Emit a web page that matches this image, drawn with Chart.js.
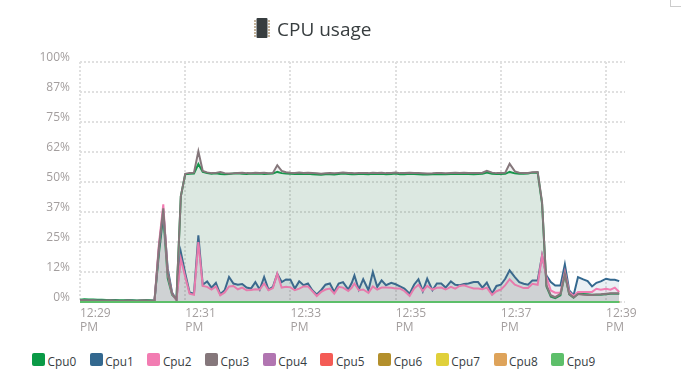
<!DOCTYPE html>
<html lang="en">
<head>
    <meta charset="UTF-8">
    <title>CPU usage</title>
    <script src="https://cdn.jsdelivr.net/npm/chart.js"></script>
    <style>
        html, body { margin: 0; padding: 0; background: #fff; overflow: hidden; }
        body { width: 681px; height: 387px; position: relative; font-family: "Open Sans", sans-serif; }
        #cpuChart { position: absolute; left: 0; top: 0; }
        #title { position: absolute; left: 277px; top: 15px; font-size: 19px; line-height: 28px; color: #373d3f; }
        #chip { position: absolute; left: 253px; top: 18px; }
        #legend { position: absolute; left: 32px; top: 353px; display: flex; }
        .item { width: 57.7px; display: flex; align-items: center; height: 13px; font-size: 11.8px; color: #373d3f; }
        .box { width: 13px; height: 13px; border-radius: 2px; margin-right: 2.5px; flex: none; }
        .name { position: relative; top: 1px; }
        #corner { position: absolute; left: 670px; top: 0; width: 11px; height: 6px; border-left: 1px solid #ccc; border-bottom: 1px solid #ccc; }
    </style>
</head>
<body>
    <canvas id="cpuChart" width="660" height="345"></canvas>

    <svg id="chip" width="18" height="20" viewBox="0 0 18 20">
        <rect x="3.5" y="0" width="11" height="20" rx="1" fill="#373d3f"/>
        <path d="M1 3h2M1 6h2M1 9h2M1 12h2M1 15h2M1 18h2M15 3h2M15 6h2M15 9h2M15 12h2M15 15h2M15 18h2" stroke="#8a6a3a" stroke-width="1"/>
    </svg>
    <div id="title">CPU usage</div>
    <div id="legend"></div>
    <div id="corner"></div>

    <script>
        const cpuNames = ['Cpu0', 'Cpu1', 'Cpu2', 'Cpu3', 'Cpu4', 'Cpu5', 'Cpu6', 'Cpu7', 'Cpu8', 'Cpu9'];
        const cpuColors = ['#0a9a46', '#33688f', '#f27cb2', '#85777b', '#b175b1', '#f45b55', '#b38f2c', '#e0d03a', '#dea35a', '#5dbf6a'];

        const yTickLabels = ['0%', '12%', '25%', '37%', '50%', '62%', '75%', '87%', '100%'];
        const xTickLabels = ['12:29', '12:31', '12:33', '12:35', '12:37', '12:39'];

        // seconds after 12:29 for each sample, ten per row
        const sampleSecs = [
            0, 5, 10, 15, 20, 25, 30, 35, 40, 45,
            50, 55, 60, 65, 70, 75, 80, 85, 90, 95,
            100, 105, 110, 115, 120, 125, 130, 135, 140, 145,
            150, 155, 160, 165, 170, 175, 180, 185, 190, 195,
            200, 205, 210, 215, 220, 225, 230, 235, 240, 245,
            250, 255, 260, 265, 270, 275, 280, 285, 290, 295,
            300, 306, 310, 313, 318, 323, 329, 334, 339, 344,
            349, 355, 360, 365, 370, 376, 381, 386, 391, 396,
            402, 407, 412, 417, 423, 428, 433, 438, 443, 449,
            454, 459, 464, 470, 475, 480, 485, 490, 496, 501,
            506, 511, 516, 522, 527, 532, 537, 542, 548, 553,
            558, 563, 568, 574, 579, 584, 589, 594, 600, 605,
            610, 615
        ];

        const cpu0 = [
            0.9, 1.1, 1.0, 1.0, 0.9, 0.9, 0.8, 0.8, 0.8, 0.7,
            0.7, 0.8, 0.7, 0.6, 0.7, 0.8, 0.7, 0.6, 20, 36,
            10, 3, 1, 44, 53.2, 53.4, 53.5, 57.5, 54.2, 53.7,
            53.4, 53.6, 53.3, 53.2, 53.3, 53.5, 53.6, 53.4, 53.3, 53.5,
            53.4, 53.5, 53.3, 53.4, 53.5, 54.2, 53.7, 53.5, 53.4, 53.3,
            53.4, 53.3, 53.4, 53.2, 53.1, 53, 53.2, 53.2, 53.1, 53.3,
            53.5, 53.3, 53.2, 53.2, 53.3, 53.3, 53.2, 53.4, 53.3, 53.4,
            53.2, 53.3, 53.5, 53.2, 53.2, 53.4, 53.3, 53.2, 53.1, 53.1,
            53.2, 53.3, 53.2, 53.2, 53.3, 53.4, 53.3, 53.4, 53.3, 53.2,
            53.3, 53.4, 53.9, 53.4, 53.3, 53.3, 53.4, 54.2, 53.6, 53.4,
            53.4, 53.5, 53.9, 53.9, 41, 6.5, 2.2, 1.6, 2.8, 11.5,
            3.2, 1.8, 3.4, 3.3, 3.2, 3, 3, 3, 3.2, 3.4,
            3.4, 3.4
        ];

        const cpu1 = [
            0.5, 0.5, 0.5, 0.5, 0.5, 0.5, 0.4, 0.5, 0.5, 0.4,
            0.4, 0.5, 0.5, 0.4, 0.5, 0.5, 0.4, 0.6, 22, 38,
            14, 4, 0.8, 20.8, 12, 4, 3.5, 27.8, 7.2, 8.6,
            6, 8, 3.2, 4.9, 10.4, 7.7, 7.2, 7.5, 6, 5.6,
            8.3, 5.2, 10.4, 5.2, 6.3, 11.8, 8.3, 9.4, 9.3, 5.6,
            8.6, 7, 7.7, 4.9, 3.1, 4.9, 7.2, 7.7, 4.2, 7.7,
            8.3, 5.2, 8, 11.1, 5.2, 9.5, 4.9, 12.5, 6.3, 9,
            7, 8, 7.4, 6.5, 5.6, 3.5, 7.2, 9.5, 4.5, 9.7,
            4.9, 7.7, 7.7, 6, 8.6, 7.2, 7, 7.5, 7.7, 8.3,
            8.3, 6, 8.1, 3.5, 6.7, 7.2, 9.7, 13.2, 10.4, 8.3,
            7.6, 7.2, 9, 9, 19.4, 11, 8.3, 6.9, 6.9, 15.7,
            4.8, 2.8, 10.4, 9.4, 8.7, 6.5, 8, 8.6, 9.7, 9.3,
            9.3, 8.7
        ];

        const cpu2 = [
            0.5, 0.5, 0.5, 0.5, 0.4, 0.4, 0.5, 0.5, 0.4, 0.4,
            0.4, 0.5, 0.4, 0.4, 0.5, 0.5, 0.4, 0.6, 24, 40.7,
            12, 3.5, 0.8, 18, 10.5, 3.5, 3, 25, 6.7, 6.3,
            5.2, 6.5, 2.8, 4, 6.5, 6.7, 5.3, 6, 4.9, 5,
            5.3, 5.2, 7.7, 4.9, 5.8, 11.8, 6, 6.3, 6.1, 4.9,
            5.6, 6.5, 6.5, 4.5, 2.5, 4.2, 5.2, 5.6, 3.5, 6.3,
            6, 4.6, 6, 7.7, 4.9, 5.2, 3.8, 6.5, 5.2, 6,
            6, 5.9, 5.6, 5.6, 4.6, 2.5, 5.6, 7.2, 4.6, 6.7,
            5.2, 5.9, 6, 5.2, 6.3, 5.6, 6.7, 7, 6.3, 5.6,
            5.6, 5.3, 6, 3, 4.5, 5.2, 7, 9.5, 7.2, 6.5,
            5.8, 5.8, 7.6, 7.2, 19.4, 10.4, 4.8, 3.9, 3.9, 12.5,
            4.2, 2.5, 4.2, 4.2, 4.2, 4.2, 5.5, 5.1, 5.5, 5.1,
            6, 4.2
        ];

        const cpu3 = [
            0.7, 0.7, 0.6, 0.7, 0.6, 0.6, 0.5, 0.6, 0.6, 0.5,
            0.5, 0.6, 0.5, 0.5, 0.6, 0.6, 0.5, 0.6, 22.9, 39,
            12.4, 3.5, 1, 44, 53.4, 53.8, 53.9, 62.8, 54.6, 54,
            53.7, 53.8, 54.2, 53.7, 53.5, 53.6, 53.8, 53.9, 53.7, 53.6,
            53.9, 53.8, 53.9, 53.6, 53.8, 57, 54.6, 54.1, 53.9, 53.8,
            54, 53.8, 53.9, 53.8, 53.6, 53.4, 53.6, 53.7, 53.6, 53.8,
            54, 53.8, 53.7, 53.6, 53.7, 53.8, 53.7, 53.9, 53.8, 53.9,
            53.7, 53.8, 54, 53.7, 53.7, 53.9, 53.8, 53.7, 53.6, 53.5,
            53.6, 53.8, 53.7, 53.6, 53.8, 53.9, 53.8, 53.9, 53.8, 53.7,
            53.8, 53.9, 54.7, 53.9, 53.7, 53.8, 53.9, 57.6, 54.4, 53.9,
            53.8, 53.8, 54.1, 54.2, 41.6, 7, 2.8, 2, 3.4, 11.8,
            3.4, 2, 3.3, 3, 2.9, 2.9, 3.1, 3.2, 3.4, 3.6,
            3.6, 3.6
        ];

        // the other six cores sit flat on the axis
        const idleCpu = [
            0, 0, 0, 0, 0, 0, 0, 0, 0, 0,
            0, 0, 0, 0, 0, 0, 0, 0, 0, 0,
            0, 0, 0, 0, 0, 0, 0, 0, 0, 0,
            0, 0, 0, 0, 0, 0, 0, 0, 0, 0,
            0, 0, 0, 0, 0, 0, 0, 0, 0, 0,
            0, 0, 0, 0, 0, 0, 0, 0, 0, 0,
            0, 0, 0, 0, 0, 0, 0, 0, 0, 0,
            0, 0, 0, 0, 0, 0, 0, 0, 0, 0,
            0, 0, 0, 0, 0, 0, 0, 0, 0, 0,
            0, 0, 0, 0, 0, 0, 0, 0, 0, 0,
            0, 0, 0, 0, 0, 0, 0, 0, 0, 0,
            0, 0, 0, 0, 0, 0, 0, 0, 0, 0,
            0, 0
        ];

        const cpuValues = [cpu0, cpu1, cpu2, cpu3, idleCpu, idleCpu, idleCpu, idleCpu, idleCpu, idleCpu];

        const gridColor = '#e0e0e0';
        const tickColor = '#a39e9e';
        const tickFont = { family: '"Open Sans", sans-serif', size: 12 };

        new Chart(document.getElementById('cpuChart'), {
            type: 'line',
            data: {
                labels: sampleSecs,
                datasets: cpuNames.map((name, i) => ({
                    label: name,
                    data: cpuValues[i],
                    borderColor: cpuColors[i],
                    backgroundColor: cpuColors[i] + '1a',
                    borderWidth: 2,
                    pointRadius: 0,
                    tension: 0,
                    fill: 'origin',
                    clip: 5,
                    order: -i // later cores are painted on top
                }))
            },
            options: {
                responsive: false,
                animation: false,
                layout: { padding: { top: 62, right: 35 } },
                plugins: {
                    legend: { display: false },
                    title: { display: false }
                },
                scales: {
                    x: {
                        type: 'linear',
                        min: 0,
                        max: 621.6,
                        afterFit: scale => {
                            scale.height = 43;
                            // last label may hang past the plot, keep the plot width fixed
                            scale.paddingLeft = 0;
                            scale.paddingRight = 0;
                        },
                        border: { display: false, dash: [2, 2] },
                        grid: { color: gridColor, lineWidth: 2, drawTicks: false },
                        ticks: {
                            stepSize: 120,
                            includeBounds: false,
                            maxRotation: 0,
                            autoSkip: false,
                            align: 'start',
                            padding: 4,
                            color: tickColor,
                            font: tickFont,
                            callback: value => [xTickLabels[value / 120], 'PM']
                        }
                    },
                    y: {
                        min: 0,
                        max: 100,
                        afterFit: scale => { scale.width = 80; },
                        border: { display: false, dash: [2, 2] },
                        grid: { color: gridColor, lineWidth: 2, drawTicks: false },
                        ticks: {
                            stepSize: 12.5,
                            autoSkip: false,
                            padding: 10,
                            labelOffset: -4,
                            color: tickColor,
                            font: tickFont,
                            callback: value => yTickLabels[value / 12.5]
                        }
                    }
                }
            }
        });

        // legend row under the chart
        const legend = document.getElementById('legend');
        cpuNames.forEach((name, i) => {
            const item = document.createElement('div');
            item.className = 'item';
            const box = document.createElement('span');
            box.className = 'box';
            box.style.background = cpuColors[i];
            const text = document.createElement('span');
            text.className = 'name';
            text.textContent = name;
            item.appendChild(box);
            item.appendChild(text);
            legend.appendChild(item);
        });
    </script>
</body>
</html>
